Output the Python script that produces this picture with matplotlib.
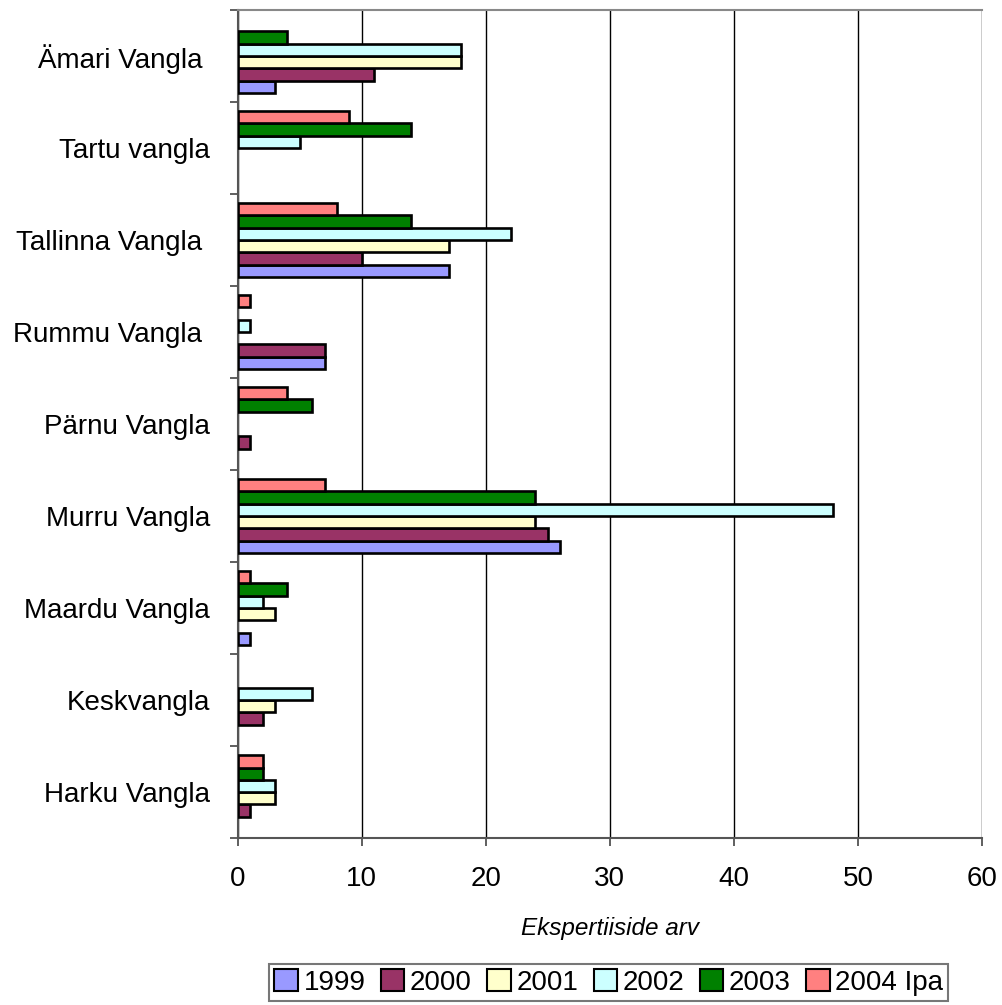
import numpy as np
import matplotlib
matplotlib.use('Agg')
from matplotlib import pyplot as plt
from matplotlib.patches import Patch

plt.rcParams['font.family'] = ['Liberation Sans', 'DejaVu Sans']

# categories from bottom to top
prisons = ["Harku Vangla", "Keskvangla", "Maardu Vangla", "Murru Vangla",
           "Pärnu Vangla", "Rummu Vangla ", "Tallinna Vangla ", "Tartu vangla",
           "Ämari Vangla "]
series = ["1999", "2000", "2001", "2002", "2003", "2004 Ipa"]
colors = ["#9999FF", "#993366", "#FFFFCC", "#CCFFFF", "#008000", "#FF8080"]

v1999 = [0, 0, 1, 26, 0, 7, 17, 0, 3]
v2000 = [1, 2, 0, 25, 1, 7, 10, 0, 11]
v2001 = [3, 3, 3, 24, 0, 0, 17, 0, 18]
v2002 = [3, 6, 2, 48, 0, 1, 22, 5, 18]
v2003 = [2, 0, 4, 24, 6, 0, 14, 14, 4]
v2004 = [2, 0, 1, 7, 4, 1, 8, 9, 0]
values = [v1999, v2000, v2001, v2002, v2003, v2004]


def plot():
    fig = plt.figure(figsize=(10.03, 10.05), dpi=100)
    ax = fig.add_axes([0.237, 0.166, 0.742, 0.824])

    y = np.arange(len(prisons))
    h = 0.134
    for i, (name, vals, c) in enumerate(zip(series, values, colors)):
        lw = [1.9 if v > 0 else 0 for v in vals]
        ax.barh(y + (i - 2.5) * h, vals, height=h, color=c, edgecolor="black",
                linewidth=lw, zorder=3)

    ax.set_xlim(0, 60)
    ax.set_ylim(-0.5, len(prisons) - 0.5)
    ax.set_xticks(range(0, 61, 10))
    ax.tick_params(axis='x', labelsize=20, length=6, width=1.2, color='#444444', pad=14)
    ax.xaxis.grid(True, color='black', linewidth=1)
    ax.set_axisbelow(True)

    ax.set_yticks(np.arange(-0.5, len(prisons), 1))
    ax.set_yticklabels([])
    ax.set_yticks(y, minor=True)
    ax.set_yticklabels(prisons, minor=True, fontsize=20)
    ax.tick_params(axis='y', which='minor', length=0, pad=20)
    ax.tick_params(axis='y', which='major', length=6, width=1.2, color='#444444')

    for s in ['left', 'bottom']:
        ax.spines[s].set_color('#555555')
        ax.spines[s].set_linewidth(1.5)
    ax.spines['top'].set_color('#888888')
    ax.spines['top'].set_linewidth(1.5)
    ax.spines['right'].set_visible(False)

    ax.set_xlabel("Ekspertiiside arv", fontsize=17.5, style='italic', labelpad=18)

    handles = [Patch(facecolor=c, edgecolor='black', linewidth=1.5) for c in colors]
    leg = fig.legend(handles, series, loc='lower center', bbox_to_anchor=(0.607, 0.004),
                     ncol=6, fontsize=20, frameon=True, fancybox=False,
                     handlelength=0.85, handleheight=0.85, handletextpad=0.2,
                     columnspacing=0.55, borderpad=0.18, borderaxespad=0)
    leg.get_frame().set_edgecolor('#555555')
    leg.get_frame().set_linewidth(1.5)

    fig.savefig("out.png", dpi=100)


if __name__ == '__main__':
    plot()
